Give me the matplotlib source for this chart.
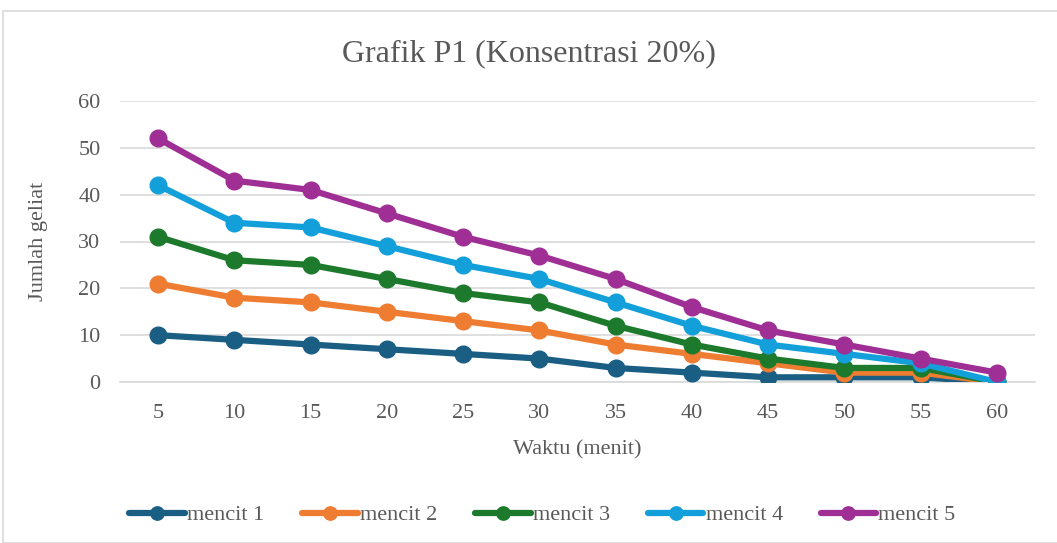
import matplotlib

matplotlib.use("Agg")
import matplotlib.pyplot as plt
from matplotlib.patches import Rectangle

waktu = [5, 10, 15, 20, 25, 30, 35, 40, 45, 50, 55, 60]
mencit_1 = [10, 9, 8, 7, 6, 5, 3, 2, 1, 1, 1, 0]
mencit_2 = [21, 18, 17, 15, 13, 11, 8, 6, 4, 2, 2, 0]
mencit_3 = [31, 26, 25, 22, 19, 17, 12, 8, 5, 3, 3, 0]
mencit_4 = [42, 34, 33, 29, 25, 22, 17, 12, 8, 6, 4, 0]
mencit_5 = [52, 43, 41, 36, 31, 27, 22, 16, 11, 8, 5, 2]

series = [
    ("mencit 1", mencit_1, "#1b5e84"),
    ("mencit 2", mencit_2, "#ee7d32"),
    ("mencit 3", mencit_3, "#1d7a2d"),
    ("mencit 4", mencit_4, "#139fd9"),
    ("mencit 5", mencit_5, "#9f2f95"),
]

plt.rcParams["font.family"] = ["Liberation Serif", "DejaVu Serif"]
text_color = "#595959"

fig = plt.figure(figsize=(10.57, 5.43), dpi=100)
ax = fig.add_axes([120 / 1057, 1 - 382 / 543, 915 / 1057, 281 / 543])

# chart border
fig.patches.append(
    Rectangle((3 / 1057, 0), 1, 1 - 11 / 543, transform=fig.transFigure,
              fill=False, edgecolor="#d9d9d9", linewidth=1.2)
)

x = list(range(len(waktu)))
for name, vals, col in series:
    ax.plot(x, vals, color=col, linewidth=4.5, marker="o", markersize=12,
            label=name, solid_capstyle="round", zorder=3)

ax.set_xlim(-0.5, len(waktu) - 0.5)
ax.set_ylim(0, 60)
ax.set_yticks(range(0, 61, 10))
ax.set_xticks(x)
ax.set_xticklabels([str(w) for w in waktu])
ax.grid(axis="y", color="#d9d9d9", linewidth=1.2, zorder=0)
ax.tick_params(length=0, labelsize=16, labelcolor=text_color)
ax.tick_params(axis="x", pad=16)
ax.tick_params(axis="y", pad=14)
for s in ["top", "right", "left"]:
    ax.spines[s].set_visible(False)
ax.spines["bottom"].set_color("#d9d9d9")
ax.spines["bottom"].set_linewidth(1.2)

ax.set_xlabel("Waktu (menit)", fontsize=16, color=text_color, labelpad=12)
ax.set_ylabel("Jumlah geliat", fontsize=16, color=text_color, labelpad=22)
fig.text(0.5, 1 - 54 / 543, "Grafik P1 (Konsentrasi 20%)", ha="center", va="center",
         fontsize=23, color=text_color)

fig.legend(loc="center", bbox_to_anchor=(0.5 + 14 / 1057, 1 - 515 / 543), ncol=5,
           frameon=False, fontsize=16, handlelength=2.5, handletextpad=0.1,
           columnspacing=1.7, markerscale=0.8, labelcolor=text_color)

plt.savefig("out.png", dpi=100)
